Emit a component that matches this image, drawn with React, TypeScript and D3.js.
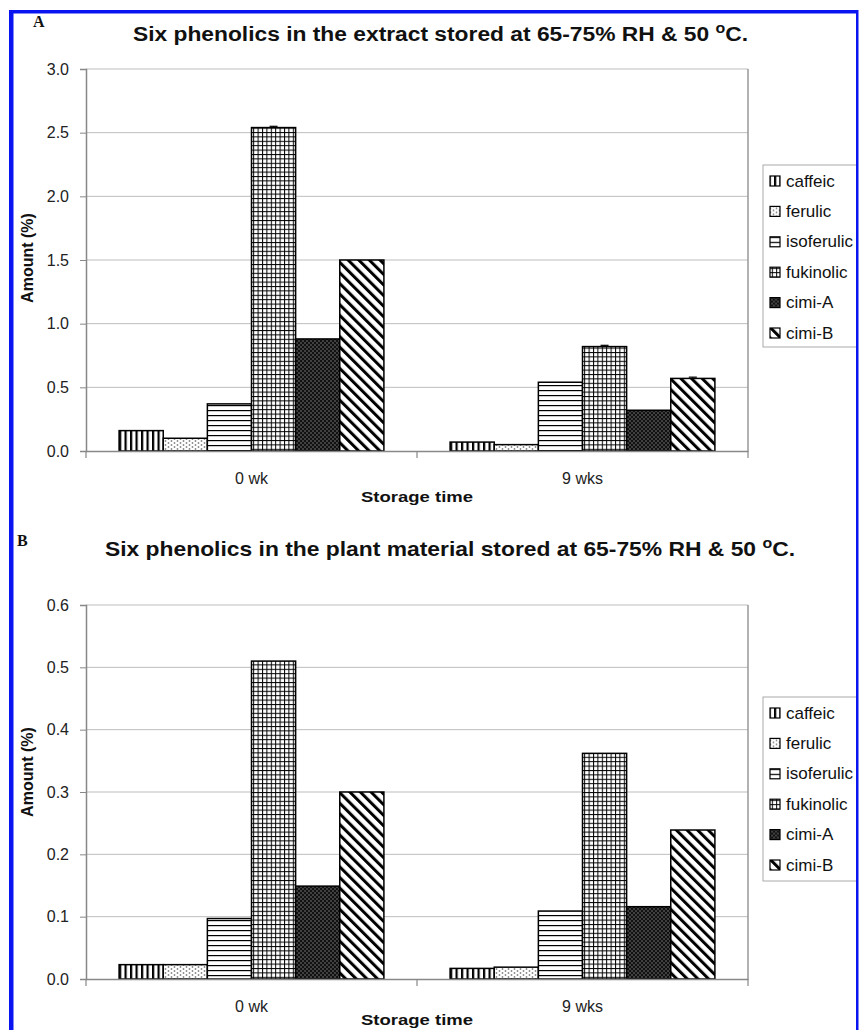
import React, { useEffect, useRef } from 'react';
import * as d3 from 'd3';

// Storage time groups and the six compounds
const categories = ['0 wk', '9 wks'];
const compounds = ['caffeic', 'ferulic', 'isoferulic', 'fukinolic', 'cimi-A', 'cimi-B'];

// Panel A: extract (amount %)
const extractWeek0 = [0.16, 0.10, 0.37, 2.54, 0.88, 1.50];
const extractWeek9 = [0.07, 0.05, 0.54, 0.82, 0.32, 0.57];
const extractErr0 = [0, 0, 0, 0.01, 0, 0];
const extractErr9 = [0, 0, 0, 0.01, 0, 0.01];
const extractTicks = [0, 0.5, 1.0, 1.5, 2.0, 2.5, 3.0];

// Panel B: plant material (amount %)
const plantWeek0 = [0.023, 0.023, 0.097, 0.51, 0.149, 0.30];
const plantWeek9 = [0.017, 0.019, 0.109, 0.362, 0.116, 0.239];
const plantErr0 = [0, 0, 0, 0, 0, 0];
const plantErr9 = [0, 0, 0, 0, 0, 0];
const plantTicks = [0, 0.1, 0.2, 0.3, 0.4, 0.5, 0.6];

const FONT = '"Liberation Sans", Arial, sans-serif';
const patternIds = ['pat-caffeic', 'pat-ferulic', 'pat-isoferulic', 'pat-fukinolic', 'pat-cimiA', 'pat-cimiB'];

const addPatterns = (defs) => {
  // caffeic: vertical bars
  const p1 = defs.append('pattern').attr('id', patternIds[0]).attr('patternUnits', 'userSpaceOnUse')
    .attr('width', 5.5).attr('height', 5.5);
  p1.append('rect').attr('width', 5.5).attr('height', 5.5).attr('fill', '#fff');
  p1.append('rect').attr('x', 0).attr('width', 2.2).attr('height', 5.5).attr('fill', '#000');

  // ferulic: light dots
  const p2 = defs.append('pattern').attr('id', patternIds[1]).attr('patternUnits', 'userSpaceOnUse')
    .attr('width', 6).attr('height', 4);
  p2.append('rect').attr('width', 6).attr('height', 4).attr('fill', '#fff');
  p2.append('circle').attr('cx', 1.5).attr('cy', 1).attr('r', 0.9).attr('fill', '#888');
  p2.append('circle').attr('cx', 4.5).attr('cy', 3).attr('r', 0.9).attr('fill', '#888');

  // isoferulic: horizontal lines
  const p3 = defs.append('pattern').attr('id', patternIds[2]).attr('patternUnits', 'userSpaceOnUse')
    .attr('width', 5).attr('height', 5);
  p3.append('rect').attr('width', 5).attr('height', 5).attr('fill', '#fff');
  p3.append('rect').attr('y', 0).attr('width', 5).attr('height', 1.2).attr('fill', '#000');

  // fukinolic: grid
  const p4 = defs.append('pattern').attr('id', patternIds[3]).attr('patternUnits', 'userSpaceOnUse')
    .attr('width', 4.4).attr('height', 4.4);
  p4.append('rect').attr('width', 4.4).attr('height', 4.4).attr('fill', '#fff');
  p4.append('rect').attr('width', 4.4).attr('height', 1).attr('fill', '#000');
  p4.append('rect').attr('width', 1).attr('height', 4.4).attr('fill', '#000');

  // cimi-A: dark with white dots
  const p5 = defs.append('pattern').attr('id', patternIds[4]).attr('patternUnits', 'userSpaceOnUse')
    .attr('width', 4).attr('height', 4);
  p5.append('rect').attr('width', 4).attr('height', 4).attr('fill', '#111');
  p5.append('rect').attr('x', 0.5).attr('y', 0.5).attr('width', 1).attr('height', 1).attr('fill', '#ccc');
  p5.append('rect').attr('x', 2.5).attr('y', 2.5).attr('width', 1).attr('height', 1).attr('fill', '#ccc');

  // cimi-B: diagonal stripes "\"
  const p6 = defs.append('pattern').attr('id', patternIds[5]).attr('patternUnits', 'userSpaceOnUse')
    .attr('width', 7.5).attr('height', 7.5).attr('patternTransform', 'rotate(-45)');
  p6.append('rect').attr('width', 7.5).attr('height', 7.5).attr('fill', '#fff');
  p6.append('rect').attr('width', 3).attr('height', 7.5).attr('fill', '#000');
};

const drawPanel = (svg, cfg) => {
  const { left, right, top, bottom, ticks, week0, week9, err0, err9 } = cfg;
  const g = svg.append('g');

  const x = d3.scaleBand().domain(categories).range([left, right]);
  const xInner = d3.scaleBand().domain(compounds).range([0, x.bandwidth()])
    .paddingInner(0).paddingOuter(0.75);
  const y = d3.scaleLinear().domain([ticks[0], ticks[ticks.length - 1]]).range([bottom, top]);

  // gridlines
  g.selectAll('.grid').data(ticks.slice(1)).enter().append('line')
    .attr('x1', left).attr('x2', right)
    .attr('y1', d => y(d)).attr('y2', d => y(d))
    .attr('stroke', '#bdbdbd').attr('stroke-width', 1);

  // plot frame (right side)
  g.append('line').attr('x1', right).attr('x2', right).attr('y1', top).attr('y2', bottom)
    .attr('stroke', '#999').attr('stroke-width', 1.5);

  const rows = [
    { cat: categories[0], values: week0, errs: err0 },
    { cat: categories[1], values: week9, errs: err9 }
  ];
  rows.forEach(row => {
    const grp = g.append('g').attr('transform', `translate(${x(row.cat)},0)`);
    grp.selectAll('rect').data(compounds).enter().append('rect')
      .attr('x', d => xInner(d))
      .attr('y', (d, i) => y(row.values[i]))
      .attr('width', xInner.bandwidth())
      .attr('height', (d, i) => y(0) - y(row.values[i]))
      .attr('fill', (d, i) => `url(#${patternIds[i]})`)
      .attr('stroke', '#000').attr('stroke-width', 1.5);
    compounds.forEach((c, i) => {
      if (!row.errs[i]) return;
      const cx = xInner(c) + xInner.bandwidth() / 2;
      grp.append('line').attr('x1', cx).attr('x2', cx)
        .attr('y1', y(row.values[i] + row.errs[i])).attr('y2', y(row.values[i]))
        .attr('stroke', '#000').attr('stroke-width', 1);
      grp.append('line').attr('x1', cx - 4).attr('x2', cx + 4)
        .attr('y1', y(row.values[i] + row.errs[i])).attr('y2', y(row.values[i] + row.errs[i]))
        .attr('stroke', '#000').attr('stroke-width', 1.2);
    });
  });

  // y axis
  const yAxis = g.append('g').attr('transform', `translate(${left},0)`)
    .call(d3.axisLeft(y).tickValues(ticks).tickFormat(d3.format('.1f')).tickSize(6).tickPadding(11));
  yAxis.select('.domain').attr('stroke', '#888').attr('stroke-width', 1.5);
  yAxis.selectAll('line').attr('stroke', '#888');
  yAxis.selectAll('text').attr('font-family', FONT).attr('font-size', 16).attr('fill', '#222');

  // x axis
  const xAxis = g.append('g').attr('transform', `translate(0,${bottom})`)
    .call(d3.axisBottom(x).tickSize(0).tickPadding(22));
  xAxis.select('.domain').attr('stroke', '#888').attr('stroke-width', 1.5);
  xAxis.selectAll('text').attr('font-family', FONT).attr('font-size', 16).attr('fill', '#222');
  // category separator ticks
  g.selectAll('.sep').data([left, x(categories[1]), right]).enter().append('line')
    .attr('x1', d => d).attr('x2', d => d).attr('y1', bottom).attr('y2', bottom + 7)
    .attr('stroke', '#888').attr('stroke-width', 1.2);

  // axis titles
  g.append('text')
    .attr('transform', `translate(${cfg.yLabelX},${cfg.yLabelY}) rotate(-90)`)
    .attr('text-anchor', 'middle').attr('dominant-baseline', 'central')
    .attr('font-family', FONT).attr('font-size', 16).attr('font-weight', 'bold').attr('fill', '#111')
    .text('Amount (%)');
  g.append('text')
    .attr('x', (left + right) / 2).attr('y', bottom + cfg.xLabelOffset)
    .attr('text-anchor', 'middle')
    .attr('font-family', FONT).attr('font-size', 15).attr('font-weight', 'bold').attr('fill', '#111')
    .attr('textLength', 112).attr('lengthAdjust', 'spacingAndGlyphs')
    .text('Storage time');

  // chart title
  const title = g.append('text')
    .attr('x', cfg.titleX).attr('y', cfg.titleY)
    .attr('font-family', FONT).attr('font-size', cfg.titleSize).attr('font-weight', 'bold').attr('fill', '#111')
    .attr('textLength', cfg.titleLength).attr('lengthAdjust', 'spacingAndGlyphs');
  title.append('tspan').text(cfg.title);
  title.append('tspan').attr('dy', -8).attr('font-size', cfg.titleSize * 0.7).text('o');
  title.append('tspan').attr('dy', 8).text('C.');

  // panel letter
  g.append('text').attr('x', cfg.letterX).attr('y', cfg.letterY)
    .attr('font-family', '"Liberation Serif", serif').attr('font-weight', 'bold').attr('font-size', 16)
    .attr('fill', '#111').text(cfg.letter);

  // legend
  const lg = g.append('g').attr('transform', `translate(763,${cfg.legendTop})`);
  lg.append('rect').attr('width', 110).attr('height', cfg.legendHeight)
    .attr('fill', '#fff').attr('stroke', '#aaa').attr('stroke-width', 1);
  const items = lg.selectAll('.item').data(compounds).enter().append('g')
    .attr('transform', (d, i) => `translate(0,${16 + i * 30.4})`);
  items.append('rect').attr('x', 7).attr('y', -5).attr('width', 10).attr('height', 10)
    .attr('fill', (d, i) => `url(#${patternIds[i]})`).attr('stroke', '#000').attr('stroke-width', 1.2);
  items.append('text').attr('x', 23).attr('y', 0).attr('dominant-baseline', 'central')
    .attr('font-family', FONT).attr('font-size', 17).attr('fill', '#111')
    .text(d => d);
};

export default function App() {
  const ref = useRef(null);

  useEffect(() => {
    const svg = d3.select(ref.current);
    svg.selectAll('*').remove();
    addPatterns(svg.append('defs'));

    drawPanel(svg, {
      left: 86, right: 748, top: 69, bottom: 451,
      ticks: extractTicks, week0: extractWeek0, week9: extractWeek9, err0: extractErr0, err9: extractErr9,
      yLabelX: 27, yLabelY: 258, xLabelOffset: 51,
      title: 'Six phenolics in the extract stored at 65-75%  RH & 50 ', titleX: 133, titleY: 41, titleSize: 20, titleLength: 615,
      letter: 'A', letterX: 33, letterY: 27,
      legendTop: 165, legendHeight: 182
    });

    drawPanel(svg, {
      left: 86, right: 748, top: 605, bottom: 979,
      ticks: plantTicks, week0: plantWeek0, week9: plantWeek9, err0: plantErr0, err9: plantErr9,
      yLabelX: 27, yLabelY: 772, xLabelOffset: 46,
      title: 'Six phenolics in the plant material stored at 65-75%  RH & 50 ', titleX: 105, titleY: 556, titleSize: 21, titleLength: 690,
      letter: 'B', letterX: 17, letterY: 546,
      legendTop: 697, legendHeight: 184
    });

    // blue frame
    svg.append('rect').attr('x', 9).attr('y', 10).attr('width', 4.5).attr('height', 1030).attr('fill', '#0a14f0');
    svg.append('rect').attr('x', 9).attr('y', 10).attr('width', 852).attr('height', 3.5).attr('fill', '#0a14f0');
    svg.append('rect').attr('x', 856).attr('y', 10).attr('width', 5).attr('height', 1030).attr('fill', '#fff');
    svg.append('rect').attr('x', 856).attr('y', 10).attr('width', 2.5).attr('height', 1030).attr('fill', '#0a14f0');
  }, []);

  return (
    <svg ref={ref} width={861} height={1030}
      style={{ position: 'absolute', left: 0, top: 0, background: '#fff' }} />
  );
}
